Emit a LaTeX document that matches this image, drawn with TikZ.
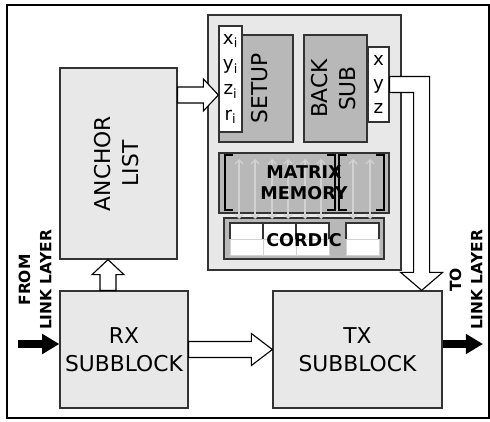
\documentclass[tikz,border=0pt]{standalone}
\usepackage{fontspec}
\setmainfont{DejaVu Sans}
\usepackage{xcolor}
\usepackage{graphicx}
\usepackage{tikz}
\usetikzlibrary{calc, arrows.meta}

\definecolor{boxgray}{HTML}{E8E8E8}
\definecolor{unitgray}{HTML}{B8B8B8}
\newcommand{\blockfont}{\fontsize{15.5}{20}\selectfont}
\newcommand{\vtext}[1]{\rotatebox{90}{\begin{tabular}{@{}c@{}}#1\end{tabular}}}
% hollow block arrow: start, tip, half shaft, half head, head length
\newcommand{\blockarrow}[5]{%
    \coordinate (ba) at ($(#2)!#5!(#1)$);
    \draw[fatarrow] ($(#1)!#3!90:(#2)$) -- ($(ba)!#3!90:(#2)$) -- ($(ba)!#4!90:(#2)$) -- (#2)
        -- ($(ba)!#4!-90:(#2)$) -- ($(ba)!#3!-90:(#2)$) -- ($(#1)!#3!-90:(#2)$) -- cycle;
}

\begin{document}
\begin{tikzpicture}[
    thick,
    block/.style={rectangle, draw=black!80, fill=boxgray, line width=0.9pt, inner sep=0pt, font=\blockfont},
    unit/.style={block, fill=unitgray},
    reg/.style={rectangle, draw=black!80, fill=white, line width=0.9pt, inner sep=0pt, align=center, font=\fontsize{13}{18}\selectfont},
    boldtext/.style={font=\bfseries\fontsize{12.5}{15}\selectfont, align=center},
    fatarrow/.style={draw=black, fill=white, line width=0.8pt, line join=miter},
    bracket/.style={black, line width=1.4pt},
    wire/.style={gray!35, line width=0.8pt, {Straight Barb[length=3pt]}-{Straight Barb[length=3pt]}},
    linkarrow/.style={black, line width=0.2cm, -{Triangle[length=0.43cm, width=0.48cm]}},
    linklabel/.style={font=\bfseries\fontsize{11}{15}\selectfont, align=center, rotate=90}
]
    \useasboundingbox (0,0) rectangle (12.25,10.525);
    \draw[line width=0.9pt] (0.175,0.075) rectangle (12.225,10.4);

    % Processing core
    \node[block, minimum width=4.825cm, minimum height=6.375cm] (proc) at (7.6125,6.9625) {};
    \node[unit, minimum width=1.85cm, minimum height=2.675cm] (setup) at (6.4,8.3125) {\hspace{0.3cm}\vtext{SETUP}};
    \node[reg, minimum width=0.575cm, minimum height=2.65cm] (coords) at (5.7625,8.55) {x\textsubscript{i}\\y\textsubscript{i}\\z\textsubscript{i}\\r\textsubscript{i}};
    \node[unit, minimum width=1.575cm, minimum height=2.675cm] (backsub) at (8.39,8.3125) {\vtext{BACK\\SUB}};
    \node[reg, minimum width=0.525cm, minimum height=1.875cm, font=\fontsize{13}{17}\selectfont] (xyz) at (9.4625,8.4125) {x\\y\\z};

    % Matrix memory and CORDIC
    \node[unit, minimum width=4.25cm, minimum height=1.5cm] (mem) at (7.6,5.95) {};
    \node[unit, minimum width=4cm, minimum height=1.025cm] (cordic) at (7.6,4.5625) {};
    \foreach \x in {5.75,6.575,7.4,8.65} {
        \draw[gray!35, fill=white, line width=0.6pt] (\x,4.15) rectangle ++(0.825,0.4);
        \fill[white] (\x,4.55) rectangle ++(0.825,0.4);
        \draw[black!80, line width=0.8pt] (\x,4.55) -- ++(0,0.4) -- ++(0.825,0) -- ++(0,-0.4);
    }
    \foreach \l/\r in {5.625/8.375, 8.475/9.6} {
        \draw[bracket] (\l+0.2,6.65) -- (\l,6.65) -- (\l,5.275) -- (\l+0.2,5.275);
        \draw[bracket] (\r-0.2,6.65) -- (\r,6.65) -- (\r,5.275) -- (\r-0.2,5.275);
    }
    \foreach \x in {5.975,6.375,6.8,7.2,7.625,8.025,8.825,9.25}
        \draw[wire] (\x,6.55) -- (\x,5.05);
    \node[boldtext] (memtext) at (mem.center) {MATRIX\\MEMORY};
    \node[boldtext] (cordictext) at ([yshift=-0.05cm]cordic.center) {CORDIC};

    % Link side blocks
    \node[block, minimum width=2.925cm, minimum height=4.775cm] (anchor) at (2.9625,6.4375) {\vtext{ANCHOR\\LIST}};
    \node[block, minimum width=3.2cm, minimum height=2.925cm, align=center] (rx) at (3.1,1.7875) {RX\\SUBBLOCK};
    \node[block, minimum width=4.225cm, minimum height=2.925cm, align=center] (tx) at (8.9375,1.7875) {TX\\SUBBLOCK};

    % Connections
    \coordinate (setin) at ([yshift=-0.4cm]coords.west);
    \coordinate (anchorout) at (anchor.east |- setin);
    \blockarrow{anchorout}{setin}{0.2cm}{0.4cm}{0.375cm}
    \coordinate (rxout) at ([xshift=-0.4cm]rx.north);
    \coordinate (anchorin) at (rxout |- anchor.south);
    \blockarrow{rxout}{anchorin}{0.2cm}{0.4cm}{0.375cm}
    \blockarrow{rx.east}{tx.west}{0.2cm}{0.4cm}{0.525cm}

    % Result back to TX
    \coordinate (bend) at ([xshift=0.8cm]xyz.east);
    \coordinate (drop) at (bend |- tx.north);
    \coordinate (dropbase) at ([yshift=0.45cm]drop);
    \draw[fatarrow] ([yshift=0.2cm]xyz.east) -- ([shift={(0.2cm,0.2cm)}]bend) -- ([xshift=0.2cm]dropbase)
        -- ([xshift=0.525cm]dropbase) -- (drop) -- ([xshift=-0.525cm]dropbase) -- ([xshift=-0.2cm]dropbase)
        -- ([shift={(-0.2cm,-0.2cm)}]bend) -- ([yshift=-0.2cm]xyz.east) -- cycle;

    % Link layer
    \coordinate (linkin) at (0.45,1.925);
    \coordinate (linkout) at (12.075,1.925);
    \draw[linkarrow] (linkin) -- (rx.west |- linkin);
    \draw[linkarrow] (tx.east |- linkout) -- (linkout);
    \node[linklabel] (fromlabel) at (0.875,3.525) {FROM\\LINK LAYER};
    \node[linklabel] (tolabel) at (11.65,3.525) {TO\\LINK LAYER};
\end{tikzpicture}
\end{document}
